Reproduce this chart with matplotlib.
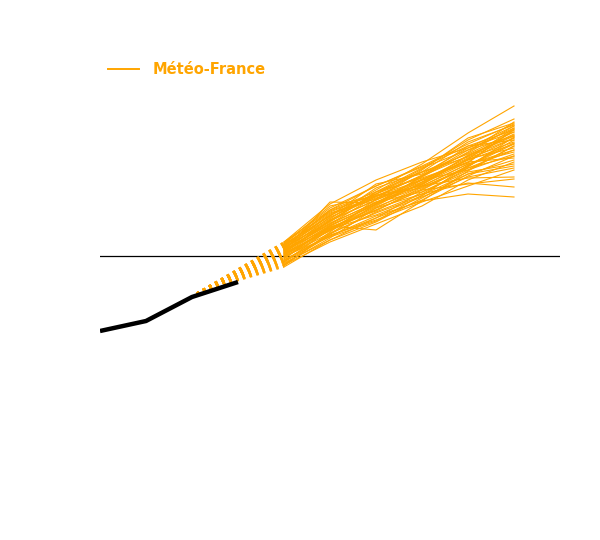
import matplotlib
matplotlib.use("Agg")
import matplotlib.pyplot as plt

# ---- data ----
hist_years = [2000, 2010, 2020, 2030]
hist_values = [-75, -65, -41, -26]

fan_start_year = 2021
fan_start_value = -37

proj_years = [2040, 2050, 2060, 2070, 2080, 2090]
proj_series = [
    [12, 40, 66, 92, 123, 150],
    [10, 38, 62, 87, 116, 137],
    [5, 54, 53, 72, 97, 128],
    [-2, 30, 26, 55, 85, 110],
    [-6, 20, 40, 55, 62, 59],
    [3, 25, 48, 62, 73, 69],
    [6, 28, 46, 66, 72, 77],
    [-9, 22, 52, 70, 78, 79],
    [8, 42, 60, 80, 100, 120],
    [14, 46, 70, 90, 112, 132],
    [-11, 16, 38, 56, 80, 100],
    [-5, 22, 44, 62, 88, 106],
    [4, 36, 56, 74, 96, 118],
    [13, 44, 62, 80, 106, 128],
    [1, 26, 46, 66, 90, 112],
    [9, 46, 64, 84, 102, 124],
    [-3, 30, 52, 76, 98, 114],
    [-8, 18, 48, 70, 92, 104],
    [11, 40, 72, 82, 108, 130],
    [5, 32, 54, 72, 94, 98],
    [0, 28, 50, 74, 100, 122],
    [12, 50, 60, 68, 90, 116],
    [-4, 20, 38, 64, 84, 92],
    [8, 35, 64, 88, 106, 120],
    [2, 31, 51, 73, 97, 108],
    [-10, 24, 57, 77, 93, 127],
    [10, 45, 62, 84, 114, 131],
    [-7, 16, 34, 58, 82, 96],
    [6, 33, 53, 79, 104, 134],
    [1, 29, 45, 69, 88, 100],
    [7, 37, 68, 84, 99, 118],
    [3, 35, 56, 76, 86, 110],
    [14, 52, 76, 94, 108, 124],
    [-1, 23, 43, 60, 91, 113],
    [5, 39, 58, 71, 101, 121],
    [-6, 27, 41, 59, 79, 88],
    [9, 34, 64, 78, 94, 126],
    [4, 30, 52, 80, 110, 116],
    [-2, 26, 54, 64, 86, 102],
    [7, 41, 59, 81, 103, 130],
    [-4, 21, 36, 54, 70, 86],
    [6, 32, 60, 76, 96, 112],
    [11, 43, 57, 86, 118, 133],
    [0, 19, 35, 61, 82, 90],
    [3, 36, 61, 70, 92, 106],
    [-9, 14, 32, 50, 76, 94],
    [13, 48, 70, 89, 110, 126],
    [2, 27, 49, 67, 89, 119],
]

line_color = "#FFA500"

# ---- figure ----
fig = plt.figure(figsize=(6, 5.4), dpi=100)
ax = fig.add_axes([100 / 600, 0, 460 / 600, 1])
ax.set_xlim(2000, 2100)
ax.set_ylim(256 - 540, 256)
for s in ax.spines.values():
    s.set_visible(False)
ax.set_xticks([])
ax.set_yticks([])

ax.axhline(0, color="black", lw=0.9, zorder=1)

for i, s in enumerate(proj_series):
    ax.plot([fan_start_year, proj_years[0]], [fan_start_value, s[0]],
            color=line_color, lw=1.0, linestyle=(0, (1.8, 3.2)), zorder=2)
    ax.plot(proj_years, s, color=line_color, lw=0.8, zorder=2,
            label="Météo-France" if i == 0 else None)

ax.plot(hist_years, hist_values, color="black", lw=3.2, zorder=3,
        solid_capstyle="butt")

leg = ax.legend(loc="center left", bbox_to_anchor=(108 / 600, 1 - 69.5 / 540),
                bbox_transform=fig.transFigure, frameon=False,
                borderpad=0, borderaxespad=0, handlelength=2.1,
                handletextpad=0.95, prop={"weight": "bold", "size": 10.5})
for t in leg.get_texts():
    t.set_color(line_color)
for h in leg.legend_handles:
    h.set_linewidth(1.4)

fig.savefig("out.png", dpi=100)
